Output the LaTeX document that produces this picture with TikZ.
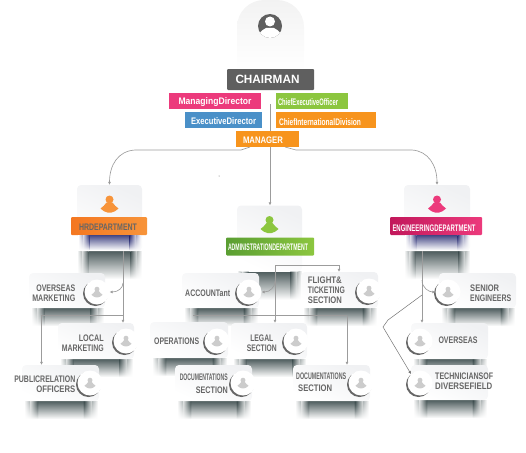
\documentclass[tikz,border=0pt]{standalone}
\usepackage{fontspec}
\usepackage{graphicx}
\setmainfont{Liberation Sans}
\usetikzlibrary{arrows.meta,fadings,calc}
\definecolor{cOrange}{HTML}{F7941D}
\definecolor{cPink}{HTML}{EC3A7C}
\definecolor{cBlue}{HTML}{4A90C8}
\definecolor{cGreen}{HTML}{8CC63F}
\definecolor{cDark}{HTML}{5F5F5F}
\definecolor{cText}{HTML}{666666}
\definecolor{cLine}{HTML}{9C9C9C}
\definecolor{cShade}{HTML}{3A4A4B}
\definecolor{cNavy}{HTML}{2F3378}
\definecolor{cCard}{HTML}{F0F1F3}
\definecolor{hrL}{HTML}{F47721}
\definecolor{hrR}{HTML}{F7943A}
\definecolor{adL}{HTML}{5A9E32}
\definecolor{adR}{HTML}{8CC63F}
\definecolor{enL}{HTML}{C2185B}
\definecolor{enR}{HTML}{EC3A7C}
\pgfdeclarelayer{front}
\pgfsetlayers{main,front}
\newcommand\wfit[2]{\resizebox{#1pt}{\height}{#2}}
\tikzset{
  conn/.style={draw=cLine,line width=.65pt},
  tipped/.style={conn,-{Latex[length=3pt,width=3pt]}},
  cardbox/.style={rectangle,rounded corners=4pt,inner sep=0,top color=cCard,bottom color=white,shading angle=-25},
  tagbox/.style={rectangle,inner sep=0,fill=#1},
  bandbox/.style={rectangle,inner sep=0,rounded corners=1pt},
  lbl/.style={inner sep=0,text=cText,font=\fontsize{9.5}{10}\selectfont\bfseries},
  wlbl/.style={inner sep=0,text=white,font=\fontsize{9.5}{10}\selectfont\bfseries},
}
\newcommand\person[4]{% x y scale colour
  \begin{scope}[shift={(#1,#2)},scale=#3]
    \fill[#4] (0,-4.5) circle (4);
    \fill[#4] (-9,4.5) .. controls (-6,3.5) and (-5,0) .. (-3,-1.5) -- (3,-1.5)
      .. controls (5,0) and (6,3.5) .. (9,4.5)
      .. controls (6,7) and (4,8.5) .. (2,8.5) -- (-2,8.5) .. controls (-4,8.5) and (-6,7) .. (-9,4.5) -- cycle;
  \end{scope}}
\newcommand\softshadow[5]{% x0 y0 x1 y1 colour
  \fill[#5,opacity=.9,path fading=south] ({#1+(#3-#1)*.18},#2) rectangle ({#3-(#3-#1)*.18},#4);
  \shade[left color=white,right color=#5,path fading=south] (#1,#2) rectangle ({#1+(#3-#1)*.18},#4);
  \shade[left color=#5,right color=white,path fading=south] ({#3-(#3-#1)*.18},#2) rectangle (#3,#4);
  \shade[left color=white,right color=#5,opacity=.6,path fading=south] ({#1+(#3-#1)*.08},#2) rectangle ({#1+(#3-#1)*.18},#4);
  \shade[left color=#5,right color=white,opacity=.6,path fading=south] ({#3-(#3-#1)*.18},#2) rectangle ({#3-(#3-#1)*.08},#4);}
\newcommand\staff[7]{% name x0 y0 x1 y1 avatar-x avatar-y
  \softshadow{#2+2}{#5}{#4-1}{#5+18}{cShade}
  \node[cardbox,minimum width={(#4-#2)*1pt},minimum height={(#5-#3)*1pt}] (#1) at ({(#2+#4)/2},{(#3+#5)/2}) {};
  \fill[black!60] ({#6-1.5},{#7+1.5}) circle (12.5);
  \node[circle,fill=white,minimum size=25pt,inner sep=0] (#1av) at (#6,#7) {};
  \person{#6}{#7}{.62}{black!20}}
\newcommand\dept[8]{% name x0 x1 band-x0 band-x1 colour-left colour-right y-offset
  \softshadow{#2}{251+#8}{#3}{279+#8}{cShade}
  \node[cardbox,minimum width={(#3-#2)*1pt},minimum height=66pt] (#1) at ({(#2+#3)/2},{218+#8}) {};
  \person{{(#2+#3)/2}}{{204+#8}}{1}{#7}
  \node[bandbox,left color=#6,right color=#7,minimum width={(#5-#4)*1pt},minimum height=18pt] (#1band) at ({(#4+#5)/2},{226+#8}) {};}
\begin{document}
\begin{tikzpicture}[x=1pt,y=-1pt]
\useasboundingbox (0,0) rectangle (526,452);
% chairman
\shade[top color=black!5,bottom color=white] (237,70) [rounded corners=27pt] -- (237,0) -- (304,0) [sharp corners] -- (304,70) -- cycle;
\node[circle,fill=cDark,minimum size=24pt,inner sep=0] (chairicon) at (270,26) {};
\begin{scope}
  \clip (270,26) circle (12);
  \fill[white] (270,21.5) circle (5);
  \fill[white] (258,35) .. controls (262,30) and (264,29) .. (266,28) -- (274,28) .. controls (276,29) and (278,30) .. (282,35) -- (270,40) -- cycle;
\end{scope}
\node[rectangle,rounded corners=1pt,fill=cDark,minimum width=87pt,minimum height=21pt,inner sep=0] (chair) at (270.5,79.5) {};
\node[wlbl,font=\fontsize{12}{14}\selectfont\bfseries] (chairt) at (267.5,79.5) {\wfit{64}{CHAIRMAN}};
\node[tagbox=cPink,minimum width=92pt,minimum height=16pt] (md) at (215,101) {};
\node[wlbl] (mdt) at (215,102) {\wfit{73}{ManagingDirector}};
\node[tagbox=cBlue,minimum width=77pt,minimum height=16pt] (ed) at (223.5,120) {};
\node[wlbl] (edt) at (223.5,121) {\wfit{65}{ExecutiveDirector}};
\node[tagbox=cGreen,minimum width=72pt,minimum height=16pt] (ceo) at (312,101) {};
\node[wlbl] (ceot) at (308,102) {\wfit{60}{ChiefExecutiveOfficer}};
\node[tagbox=cOrange,minimum width=100pt,minimum height=16pt] (cid) at (326,120) {};
\node[wlbl] (cidt) at (320,122) {\wfit{82}{ChiefInternationalDivision}};
% departments
\dept{hr}{77}{142}{71}{147}{hrL}{hrR}{0}
\dept{adm}{237}{302}{226}{314}{adL}{adR}{20.5}
\dept{eng}{404}{470}{390}{482}{enL}{enR}{0}
\softshadow{78}{235}{141}{250}{cNavy}
\softshadow{405}{235}{469}{250}{cNavy}
\node[lbl] (hrt) at (108,227.7) {\wfit{58}{HRDEPARTMENT}};
\node[wlbl] (admt) at (268,247) {\wfit{80}{ADMINISTRATIONDEPARTMENT}};
\node[wlbl] (engt) at (434,228) {\wfit{83}{ENGINEERINGDEPARTMENT}};
% staff cards
\staff{osm}{29}{273}{105}{308}{97}{292}
\staff{loc}{58}{323}{134}{359}{126}{341}
\staff{pr}{22}{365}{99}{401}{90}{383}
\staff{acc}{182}{273}{259}{308}{249}{292}
\staff{fl}{301}{272}{378}{308}{369}{291}
\staff{ops}{150}{322}{228}{358}{217}{341}
\staff{leg}{231}{323}{307}{359}{296}{341}
\staff{docl}{175}{365}{252}{401}{243}{383}
\staff{docr}{293}{365}{370}{401}{361}{383}
\staff{sen}{439}{273}{516}{308}{448}{292}
\staff{ovr}{411}{323}{488}{359}{420}{341}
\staff{tec}{411}{365}{488}{400}{420}{383}
\node[lbl,anchor=east,align=right] (osmt) at (75.5,293) {\wfit{39}{OVERSEAS}\\\wfit{43}{MARKETING}};
\node[lbl,anchor=east,align=right] (loct) at (104,343) {\wfit{25}{LOCAL}\\\wfit{42}{MARKETING}};
\node[lbl,anchor=east,align=right] (prt) at (75.5,384) {\wfit{61}{PUBLICRELATION}\\\wfit{39}{OFFICERS}};
\node[lbl,anchor=west] (acct) at (185,293) {\wfit{45}{ACCOUNTant}};
\node[lbl,anchor=west,align=left] (flt) at (307.7,290.5) {\wfit{34}{FLIGHT\&}\\\wfit{37}{TICKETING}\\\wfit{34}{SECTION}};
\node[lbl,anchor=west] (opst) at (154,341) {\wfit{45}{OPERATIONS}};
\node[lbl,anchor=east,align=center] (legt) at (277,343) {\wfit{23}{LEGAL}\\\wfit{30}{SECTION}};
\node[lbl,anchor=east,align=right] (doclt) at (228,383.5) {\wfit{48}{DOCUMENTATIONS}\\[3pt]\wfit{32}{SECTION}};
\node[lbl,anchor=west,align=left] (docrt) at (296,382) {\wfit{50}{DOCUMENTATIONS}\\[2pt]\hspace{2pt}\wfit{34}{SECTION}};
\node[lbl,anchor=west,align=left] (sent) at (470,293) {\wfit{29}{SENIOR}\\\wfit{41}{ENGINEERS}};
\node[lbl] (ovrt) at (458,340) {\wfit{39}{OVERSEAS}};
\node[lbl,anchor=west,align=left] (tect) at (435,381) {\wfit{58}{TECHNICIANSOF}\\\wfit{57}{DIVERSEFIELD}};
% manager on top of the connectors
\begin{pgfonlayer}{front}
\node[tagbox=cOrange,minimum width=63pt,minimum height=16pt] (mgr) at (267.5,139) {};
\node[wlbl] (mgrt) at (263,140) {\wfit{40}{MANAGER}};
\end{pgfonlayer}
% junctions
\coordinate (top) at (270,104);
\coordinate (mL) at (250,147);
\coordinate (mR) at (285,147);
\coordinate (hrj) at (123,251);
\coordinate (hrh) at (123,315);
\coordinate (hrw) at (41.5,315);
\coordinate (admj) at (275,265);
\coordinate (admh) at (275,315.5);
\coordinate (admw) at (193,315.5);
\coordinate (adme) at (347,315.5);
\coordinate (flc) at (339,265);
\coordinate (engj) at (422,251);
\coordinate (k1) at (388,320);
\coordinate (k2) at (383,327);
\coordinate (k3) at (422,295);
% connectors
\draw[tipped] (top) -- (adm.north -| top);
\draw[tipped] (mL) -- (241,150) -- (135,150) .. controls (118,151) and (109.5,165) .. (hr.north);
\draw[tipped] (mR) -- (296,150) -- (412,150) .. controls (428,151) and (437,165) .. (eng.north);
\draw[conn] (hrj) -- (hrh);
\draw[tipped] (123,283) .. controls (123,288) and (118,292) .. (osmav.east);
\draw[tipped] (hrh) -- (loc.north -| hrh);
\draw[tipped] (hrh) -- (hrw) -- (pr.north -| hrw);
\draw[conn] (admj) -- (admh);
\draw[tipped] (admj) -- (flc) -- (fl.north -| flc);
\draw[tipped] (275,281) .. controls (275,287) and (270,292) .. (accav.east);
\draw[tipped] (admh) -- (leg.north -| admh);
\draw[conn] (admw) -- (adme);
\draw[tipped] (adme) -- (docr.north -| adme);
\draw[tipped] (engj) -- (ovr.north -| engj);
\draw[tipped] (422,280) .. controls (422,288) and (429,292) .. (senav.west);
\draw[tipped,line width=.5pt,draw=black!55] (k3) -- (k1) -- (k2) -- (tecav.north west);
\fill[black!60] (219,176) circle (.5);
\end{tikzpicture}
\end{document}
